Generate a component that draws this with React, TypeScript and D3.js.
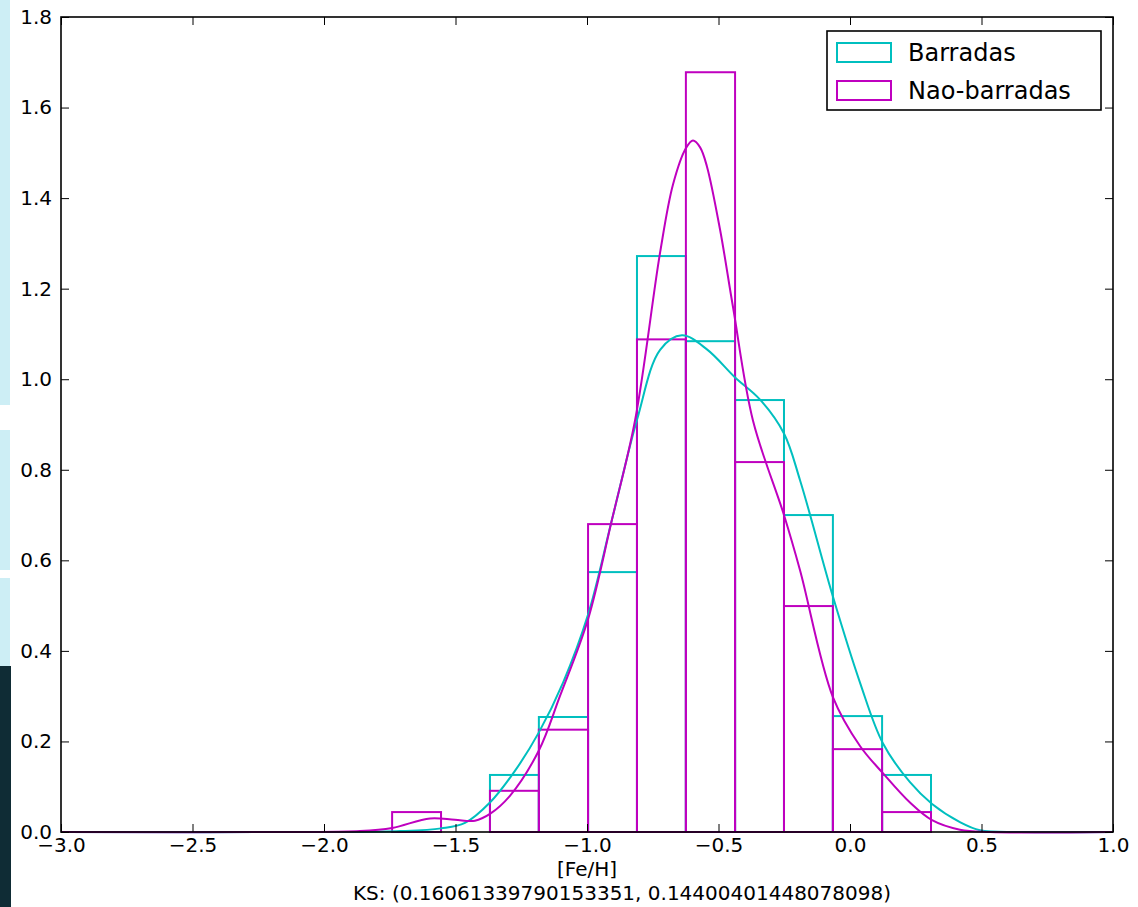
import { useEffect, useRef } from 'react';
import * as d3 from 'd3';

// histogram bin edges shared by both samples
const binEdges = [-1.741, -1.555, -1.369, -1.183, -0.996, -0.81, -0.624, -0.437, -0.251, -0.065, 0.122, 0.308];
const barradasHist = [0, 0, 0.126, 0.254, 0.574, 1.272, 1.084, 0.954, 0.7, 0.256, 0.126];
const naoHist = [0.044, 0, 0.091, 0.226, 0.68, 1.088, 1.678, 0.817, 0.499, 0.183, 0.044];

// KDE curves
const barradasKdeX = [-3.0, -1.94, -1.71, -1.555, -1.464, -1.369, -1.274, -1.183, -1.091, -0.996, -0.905, -0.81, -0.722, -0.639, -0.544, -0.437, -0.342, -0.251, -0.19, -0.065, 0.038, 0.125, 0.228, 0.312, 0.418, 0.494, 0.646, 1.0];
const barradasKdeY = [0, 0, 0.002, 0.008, 0.02, 0.065, 0.135, 0.22, 0.33, 0.48, 0.69, 0.91, 1.065, 1.097, 1.066, 1.004, 0.955, 0.88, 0.777, 0.52, 0.33, 0.196, 0.11, 0.062, 0.022, 0.004, 0, 0];
const naoKdeX = [-3.0, -2.09, -1.863, -1.741, -1.597, -1.502, -1.426, -1.369, -1.293, -1.183, -1.103, -0.996, -0.905, -0.817, -0.722, -0.673, -0.624, -0.597, -0.57, -0.544, -0.494, -0.445, -0.369, -0.251, -0.19, -0.065, 0.038, 0.125, 0.228, 0.312, 0.418, 0.532, 1.0];
const naoKdeY = [0, 0, 0.002, 0.009, 0.03, 0.027, 0.025, 0.04, 0.08, 0.18, 0.3, 0.47, 0.69, 0.91, 1.28, 1.43, 1.51, 1.527, 1.512, 1.47, 1.33, 1.16, 0.909, 0.7, 0.578, 0.298, 0.19, 0.13, 0.065, 0.026, 0.005, 0, 0];

const xTicks = [-3.0, -2.5, -2.0, -1.5, -1.0, -0.5, 0.0, 0.5, 1.0];
const yTicks = [0.0, 0.2, 0.4, 0.6, 0.8, 1.0, 1.2, 1.4, 1.6, 1.8];
const seriesNames = ['Barradas', 'Nao-barradas'];
const ksText = 'KS: (0.16061339790153351, 0.14400401448078098)';

const CYAN = '#00bfbf';
const MAGENTA = '#bf00bf';
const FONT = '"DejaVu Sans", sans-serif';

export default function App() {
  const svgRef = useRef<SVGSVGElement>(null);

  useEffect(() => {
    const svg = d3.select(svgRef.current);
    svg.selectAll('*').remove();

    const width = 1138;
    const height = 907;
    const left = 61, right = 1113, top = 17, bottom = 832;

    const x = d3.scaleLinear().domain([-3, 1]).range([left, right]);
    const y = d3.scaleLinear().domain([0, 1.8]).range([bottom, top]);

    svg.append('rect').attr('width', width).attr('height', height).attr('fill', '#fff');

    // screenshot edge strip on the left
    svg.append('rect').attr('x', 0).attr('y', 0).attr('width', 10).attr('height', 405).attr('fill', '#cdeef5');
    svg.append('rect').attr('x', 0).attr('y', 430).attr('width', 10).attr('height', 140).attr('fill', '#cdeef5');
    svg.append('rect').attr('x', 0).attr('y', 578).attr('width', 10).attr('height', 90).attr('fill', '#cdeef5');
    svg.append('rect').attr('x', 0).attr('y', 666).attr('width', 11).attr('height', 241).attr('fill', '#0f2c35');

    const g = svg.append('g');

    const drawHist = (vals: number[], color: string) => {
      g.selectAll(null)
        .data(vals.map((v, i) => ({ v, i })).filter(d => d.v > 0))
        .enter()
        .append('rect')
        .attr('x', d => x(binEdges[d.i]))
        .attr('y', d => y(d.v))
        .attr('width', d => x(binEdges[d.i + 1]) - x(binEdges[d.i]))
        .attr('height', d => y(0) - y(d.v))
        .attr('fill', 'none')
        .attr('stroke', color)
        .attr('stroke-width', 2);
    };
    drawHist(barradasHist, CYAN);
    drawHist(naoHist, MAGENTA);

    const line = d3.line<[number, number]>()
      .x(d => x(d[0]))
      .y(d => Math.min(y(d[1]), bottom))
      .curve(d3.curveCatmullRom.alpha(0.5));

    g.append('path')
      .attr('d', line(barradasKdeX.map((v, i) => [v, barradasKdeY[i]] as [number, number])))
      .attr('fill', 'none').attr('stroke', CYAN).attr('stroke-width', 2);
    g.append('path')
      .attr('d', line(naoKdeX.map((v, i) => [v, naoKdeY[i]] as [number, number])))
      .attr('fill', 'none').attr('stroke', MAGENTA).attr('stroke-width', 2);

    // axes with inward ticks on all four sides
    const styleAxis = (sel: d3.Selection<SVGGElement, unknown, null, undefined>) => {
      sel.select('.domain').remove();
      sel.selectAll('line').attr('stroke', '#000').attr('stroke-width', 1);
      sel.selectAll('text').attr('fill', '#000').style('font-family', FONT).style('font-size', '20px');
    };

    const fmt = d3.format('.1f');
    svg.append('g').attr('transform', `translate(0,${bottom})`)
      .call(d3.axisBottom(x).tickValues(xTicks).tickFormat(d => fmt(d as number)).tickSize(-8).tickPadding(6))
      .call(styleAxis);
    svg.append('g').attr('transform', `translate(0,${top})`)
      .call(d3.axisTop(x).tickValues(xTicks).tickFormat(() => '').tickSize(-8))
      .call(styleAxis);
    svg.append('g').attr('transform', `translate(${left},0)`)
      .call(d3.axisLeft(y).tickValues(yTicks).tickFormat(d => fmt(d as number)).tickSize(-8).tickPadding(9))
      .call(styleAxis);
    svg.append('g').attr('transform', `translate(${right},0)`)
      .call(d3.axisRight(y).tickValues(yTicks).tickFormat(() => '').tickSize(-8))
      .call(styleAxis);

    svg.append('rect')
      .attr('x', left).attr('y', top)
      .attr('width', right - left).attr('height', bottom - top)
      .attr('fill', 'none').attr('stroke', '#000').attr('stroke-width', 1.6);

    // labels
    svg.append('text')
      .attr('x', (left + right) / 2).attr('y', 876)
      .attr('text-anchor', 'middle')
      .style('font-family', FONT).style('font-size', '20px')
      .text('[Fe/H]');
    svg.append('text')
      .attr('x', 622).attr('y', 900)
      .attr('text-anchor', 'middle')
      .style('font-family', FONT).style('font-size', '20px')
      .text(ksText);

    // legend
    const lg = svg.append('g');
    lg.append('rect')
      .attr('x', 827).attr('y', 31).attr('width', 274).attr('height', 79)
      .attr('fill', '#fff').attr('stroke', '#000').attr('stroke-width', 1.6);
    [CYAN, MAGENTA].forEach((c, i) => {
      lg.append('rect')
        .attr('x', 837).attr('y', 43 + i * 38).attr('width', 54).attr('height', 19)
        .attr('fill', 'none').attr('stroke', c).attr('stroke-width', 2);
      lg.append('text')
        .attr('x', 908).attr('y', 61 + i * 38)
        .style('font-family', FONT).style('font-size', '24px')
        .text(seriesNames[i]);
    });
  }, []);

  return (
    <svg
      ref={svgRef}
      width={1138}
      height={907}
      style={{ position: 'absolute', left: 0, top: 0, display: 'block' }}
    />
  );
}
